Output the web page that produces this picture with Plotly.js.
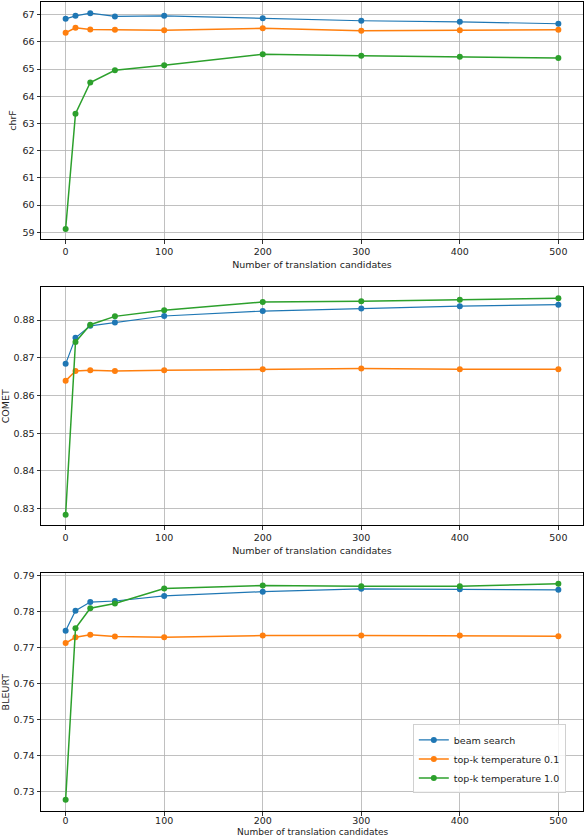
<!DOCTYPE html>
<html>
<head>
<meta charset="utf-8">
<script src="https://cdn.plot.ly/plotly-3.0.1.min.js"></script>
<style>html,body{margin:0;padding:0;background:#fff;}#chart{width:584px;height:838px;}</style>
</head>
<body>
<div id="chart"></div>
<script>
const candidates = [0, 10, 25, 50, 100, 200, 300, 400, 500];
const seriesNames = ["beam search", "top-k temperature 0.1", "top-k temperature 1.0"];
const seriesColors = ["#1f77b4", "#ff7f0e", "#2ca02c"];

const chrfBeam = [66.85, 66.96, 67.06, 66.94, 66.96, 66.87, 66.78, 66.74, 66.67];
const chrfTemp01 = [66.34, 66.52, 66.46, 66.45, 66.43, 66.50, 66.41, 66.43, 66.45];
const chrfTemp10 = [59.12, 63.36, 64.51, 64.96, 65.14, 65.55, 65.49, 65.46, 65.41];

const cometBeam = [0.8684, 0.8753, 0.8785, 0.8794, 0.8811, 0.8824, 0.8831, 0.8837, 0.8841];
const cometTemp01 = [0.8639, 0.8665, 0.8667, 0.8665, 0.8667, 0.8670, 0.8672, 0.8670, 0.8670];
const cometTemp10 = [0.8284, 0.8742, 0.8788, 0.8810, 0.8826, 0.8848, 0.8850, 0.8854, 0.8858];

const bleurtBeam = [0.7746, 0.7802, 0.7826, 0.7829, 0.7843, 0.7855, 0.7863, 0.7862, 0.7860];
const bleurtTemp01 = [0.7712, 0.7728, 0.7735, 0.7730, 0.7728, 0.7733, 0.7733, 0.7733, 0.7731];
const bleurtTemp10 = [0.7276, 0.7753, 0.7809, 0.7822, 0.7864, 0.7872, 0.7870, 0.7870, 0.7877];

const xTickVals = [0, 100, 200, 300, 400, 500];
const xTitle = "Number of translation candidates";
const yTitles = ["chrF", "COMET", "BLEURT"];

const panels = [
  {data: [chrfBeam, chrfTemp01, chrfTemp10], xa: "x", ya: "y"},
  {data: [cometBeam, cometTemp01, cometTemp10], xa: "x2", ya: "y2"},
  {data: [bleurtBeam, bleurtTemp01, bleurtTemp10], xa: "x3", ya: "y3"}
];

const traces = [];
panels.forEach((p, pi) => {
  p.data.forEach((vals, si) => {
    traces.push({
      x: candidates, y: vals, xaxis: p.xa, yaxis: p.ya,
      type: "scatter", mode: "lines+markers",
      name: seriesNames[si],
      showlegend: pi === 2,
      line: {color: seriesColors[si], width: si === 0 ? 1.2 : 1.5},
      marker: {color: seriesColors[si], size: 6}
    });
  });
});

const font = {family: "DejaVu Sans, sans-serif", size: 9.5, color: "#222"};
function xax(anchor, title, standoffLabel) {
  return {
    anchor: anchor, range: [-25, 525], tickvals: xTickVals,
    showgrid: true, gridcolor: "#b0b0b0", gridwidth: 0.8, zeroline: false,
    showline: true, linecolor: "#000", linewidth: 1, mirror: true,
    ticks: "outside", ticklen: 3.5, tickcolor: "#000", tickwidth: 0.8,
    ticklabelstandoff: standoffLabel,
    tickfont: font,
    title: {text: title, font: font, standoff: 5}
  };
}
function yax(anchor, domain, range, tickvals, fmt, title) {
  return {
    anchor: anchor, domain: domain, range: range, tickvals: tickvals, tickformat: fmt,
    showgrid: true, gridcolor: "#b0b0b0", gridwidth: 0.8, zeroline: false,
    showline: true, linecolor: "#000", linewidth: 1, mirror: true,
    ticks: "outside", ticklen: 3.5, tickcolor: "#000", tickwidth: 0.8,
    tickfont: font,
    title: {text: title, font: font, standoff: 4}
  };
}

const layout = {
  width: 584, height: 838,
  margin: {l: 41, r: 1, t: 2, b: 27},
  paper_bgcolor: "#fff", plot_bgcolor: "#fff",
  font: font,
  xaxis: xax("y", xTitle, 0),
  xaxis2: xax("y2", xTitle, 0),
  xaxis3: xax("y3", "", -3),
  yaxis: yax("x", [0.707, 1], [58.75, 67.47], [59,60,61,62,63,64,65,66,67], "d", yTitles[0]),
  yaxis2: yax("x2", [0.3532, 0.6473], [0.8256, 0.8887], [0.83,0.84,0.85,0.86,0.87,0.88], ".2f", yTitles[1]),
  yaxis3: yax("x3", [0, 0.2938], [0.7245, 0.7906], [0.73,0.74,0.75,0.76,0.77,0.78,0.79], ".2f", yTitles[2]),
  annotations: [{
    text: xTitle, xref: "x3 domain", x: 0.5, yref: "paper", y: 0,
    xanchor: "center", yanchor: "bottom", yshift: -27, borderpad: 0, showarrow: false,
    font: {family: "DejaVu Sans, sans-serif", size: 9, color: "#222"}
  }],
  legend: {
    x: 0.686, y: 0.107, xanchor: "left", yanchor: "top",
    bgcolor: "rgba(255,255,255,0.8)", bordercolor: "#d0d0d0", borderwidth: 1,
    font: {family: "DejaVu Sans, sans-serif", size: 9.5, color: "#222"},
    tracegroupgap: 0, itemwidth: 30
  },
  showlegend: true
};

Plotly.newPlot("chart", traces, layout, {displayModeBar: false, staticPlot: true});
</script>
</body>
</html>
